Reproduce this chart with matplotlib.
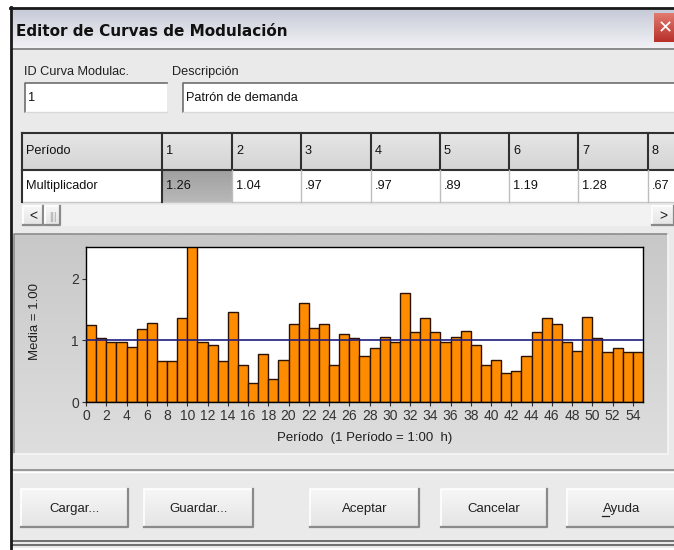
import matplotlib.pyplot as plt
import numpy as np
from matplotlib.patches import Rectangle

# Pattern multipliers, one per period (1 period = 1 hour)
multipliers = [1.26, 1.04, 0.97, 0.97, 0.89, 1.19, 1.28, 0.67, 0.66, 1.37,
               2.55, 0.98, 0.92, 0.66, 1.46, 0.60, 0.31, 0.78, 0.37, 0.68,
               1.27, 1.61, 1.20, 1.27, 0.60, 1.11, 1.04, 0.74, 0.88, 1.06,
               0.98, 1.77, 1.13, 1.37, 1.14, 0.97, 1.06, 1.16, 0.92, 0.60,
               0.68, 0.47, 0.51, 0.75, 1.13, 1.36, 1.27, 0.98, 0.83, 1.39,
               1.04, 0.81, 0.88, 0.81, 0.81]
periods = np.arange(len(multipliers))
mean_value = 1.00
shown_periods = 8
button_labels = ['Cargar...', 'Guardar...', 'Aceptar', 'Cancelar', 'Ayuda']

NARROW = ['Liberation Sans Narrow', 'Liberation Sans', 'DejaVu Sans']
SANS = ['Liberation Sans', 'DejaVu Sans']
BODY = '#EAEAEA'
FS = 9.2

fig = plt.figure(figsize=(6.74, 5.5), dpi=100)
fig.patch.set_facecolor('white')

# full-figure axes in pixel coordinates for the dialog chrome
bg = fig.add_axes([0, 0, 1, 1])
bg.set_xlim(0, 674)
bg.set_ylim(550, 0)
bg.axis('off')


def rect(x0, y0, x1, y1, fc='none', ec='none', lw=1.0, z=1):
    bg.add_patch(Rectangle((x0, y0), x1 - x0, y1 - y0, facecolor=fc,
                           edgecolor=ec, linewidth=lw, zorder=z))


def gradient(x0, y0, x1, y1, c_top, c_bot, z=1):
    c0 = np.array(plt.matplotlib.colors.to_rgb(c_top))
    c1 = np.array(plt.matplotlib.colors.to_rgb(c_bot))
    t = np.linspace(0, 1, 64)[:, None, None]
    img = c0 * (1 - t) + c1 * t
    img = np.repeat(img, 2, axis=1)
    bg.imshow(img, extent=[x0, x1, y1, y0], aspect='auto', zorder=z,
              interpolation='bilinear')


def sunken_box(x0, y0, x1, y1):
    rect(x0, y0, x1, y1, fc='white', z=2)
    bg.plot([x0, x0, x1], [y1, y0, y0], color='#6E6E6E', lw=1.2, zorder=3)
    bg.plot([x0, x1], [y1, y1], color='#D8D8D8', lw=1.0, zorder=3)


def button(x0, y0, x1, y1, label, fs=9.5, color='#202020'):
    gradient(x0, y0, x1, y1, '#F7F7F7', '#E4E4E4', z=2)
    bg.plot([x0, x0, x1], [y1, y0, y0], color='white', lw=1.2, zorder=3)
    bg.plot([x0, x1, x1], [y1, y1, y0], color='#8A8A8A', lw=1.6, zorder=3)
    bg.text((x0 + x1) / 2, (y0 + y1) / 2 + 1, label, ha='center',
            va='center', fontsize=fs, family=NARROW, color=color, zorder=4)


# dialog body and outer border
rect(10, 7, 676, 548, fc=BODY, z=0.5)
bg.plot([11, 11], [7, 550], color='#1A1A1A', lw=2.0, zorder=5)
bg.plot([10, 674], [7.5, 7.5], color='#1A1A1A', lw=2.0, zorder=5)

# title bar
gradient(12, 9, 674, 48, '#C6CAD8', '#F2F2F5', z=1)
bg.plot([12, 674], [48.5, 48.5], color='#7A7A7A', lw=1.2, zorder=2)
bg.text(16, 31, 'Editor de Curvas de Modulación', fontsize=11,
        fontweight='bold', family=['DejaVu Sans'], color='#111111',
        va='center', ha='left', zorder=3)
gradient(654, 13, 676, 42, '#E07A70', '#B8302A', z=2)
bg.text(665, 28, '✕', fontsize=13, color='white', ha='center', va='center',
        fontweight='bold', zorder=3)

# id / description fields
bg.text(24, 72, 'ID Curva Modulac.', fontsize=FS, family=NARROW,
        color='#202020', va='center')
bg.text(172, 72, 'Descripción', fontsize=FS, family=NARROW,
        color='#202020', va='center')
sunken_box(25, 83, 167, 112)
sunken_box(183, 83, 676, 112)
bg.text(28, 98, '1', fontsize=FS, family=NARROW, color='#111111', va='center')
bg.text(186, 98, 'Patrón de demanda', fontsize=FS, family=NARROW,
        color='#111111', va='center')

# period / multiplier grid
col_edges = [22, 162, 232, 301, 371, 440, 509, 578, 648, 676]
gradient(22, 133, 676, 170, '#E6E6E6', '#D4D4D4', z=1)
rect(22, 170, 676, 202, fc='white', z=1)
gradient(162, 170, 232, 202, '#A0A0A0', '#B8B8B8', z=1.5)
bg.plot([22, 676], [133, 133], color='#303030', lw=1.5, zorder=3)
bg.plot([22, 676], [170, 170], color='#303030', lw=1.5, zorder=3)
bg.plot([22, 676], [202, 202], color='#C8C8C8', lw=1.0, zorder=3)
for x in col_edges[:-1]:
    bg.plot([x, x], [133, 170], color='#303030', lw=1.5, zorder=3)
    bg.plot([x, x], [170, 202], color='#BDBDBD' if x > 162 else '#303030',
            lw=1.0 if x > 162 else 1.5, zorder=3)
bg.text(26, 151, 'Período', fontsize=FS, family=NARROW, color='#111111',
        va='center')
bg.text(26, 186, 'Multiplicador', fontsize=FS, family=NARROW, color='#111111',
        va='center')
for i in range(shown_periods):
    x0 = col_edges[i + 1] + 4
    v = multipliers[i]
    txt = f'{v:.2f}'
    if v < 1:
        txt = txt[1:]
    bg.text(x0, 151, str(i + 1), fontsize=FS, family=NARROW, color='#111111',
            va='center')
    bg.text(x0, 186, txt, fontsize=FS, family=NARROW, color='#111111',
            va='center')

# horizontal scroll bar
rect(22, 205, 676, 226, fc='#F2F2F2', z=1)
button(23, 206, 43, 225, '<', fs=10)
button(45, 206, 60, 225, '|||', fs=7, color='#A0A0A0')
button(652, 206, 674, 225, '>', fs=10)

# chart panel
gradient(14, 234, 668, 454, '#C8C8C8', '#DEDEDE', z=1)
bg.plot([14, 14, 668], [454, 234, 234], color='#8C8C8C', lw=1.2, zorder=2)
bg.plot([14, 668, 668], [454, 454, 234], color='#F6F6F6', lw=1.2, zorder=2)
bg.text(35, 322, 'Media = 1.00', rotation=90, fontsize=9.5, family=SANS,
        color='#202020', ha='center', va='center', zorder=3)
bg.text(365, 438, 'Período  (1 Período = 1:00  h)', fontsize=9.5,
        family=SANS, color='#202020', ha='center', va='center', zorder=3)

# separator and buttons
bg.plot([12, 674], [470, 470], color='#8A8A8A', lw=1.2, zorder=2)
bg.plot([12, 674], [471.5, 471.5], color='white', lw=1.0, zorder=2)
btn_x = [(21, 128), (144, 253), (310, 419), (441, 547), (567, 676)]
for (x0, x1), label in zip(btn_x, button_labels):
    button(x0, 489, x1, 527, label)
bg.plot([602, 609], [516, 516], color='#202020', lw=0.9, zorder=5)
bg.plot([12, 674], [541, 541], color='#5A5A5A', lw=1.2, zorder=2)
bg.plot([12, 674], [545, 545], color='#5A5A5A', lw=1.2, zorder=2)

# bar chart of the multipliers
ax = fig.add_axes([86 / 674, (550 - 402) / 550, (643 - 86) / 674,
                   (402 - 247) / 550])
ax.set_facecolor('white')
ax.bar(periods, multipliers, width=1.0, align='edge', color='#FF8C00',
       edgecolor='#2A1200', linewidth=1.0, zorder=2)
ax.axhline(mean_value, color='#1E1E80', lw=1.2, zorder=3)
ax.set_xlim(0, len(multipliers))
ax.set_ylim(0, 2.52)
ax.set_xticks(np.arange(0, len(multipliers), 2))
ax.set_yticks([0, 1, 2])
ax.tick_params(direction='out', length=3, width=0.8, labelsize=10,
               colors='#333333', pad=2)
for lab in ax.get_xticklabels() + ax.get_yticklabels():
    lab.set_family(SANS)
for s in ax.spines.values():
    s.set_linewidth(1.0)
    s.set_color('black')

fig.savefig('out.png', dpi=100)
plt.close()
